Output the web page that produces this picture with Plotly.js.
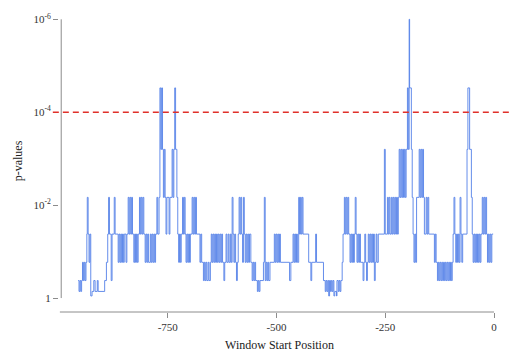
<!DOCTYPE html>
<html>
<head>
<meta charset="utf-8">
<script src="https://cdn.plot.ly/plotly-3.0.1.min.js"></script>
<style>html,body{margin:0;padding:0;background:#fff;}#chart{width:509px;height:360px;}</style>
</head>
<body>
<div id="chart"></div>
<script>
// Window start positions (step points)
var winStart = [-956,-954,-952,-950,-948,-946,-944,-942,-940,-938,
-936,-935,-933,-931,-929,
-927,-924,-920,-917,-912,-910,
-895,-891,-888,-886,-884,-880,-878,-873,-871,
-864,-862,-860,-858,-856,-854,-852,-850,-846,-844,
-841,-839,-837,-835,-833,-831,
-828,-826,-824,-822,-820,-818,
-815,-813,-811,-809,-807,-805,
-802,-800,-798,-796,-794,-790,
-788,-786,-784,-782,-780,-778,
-775,-773,-770,
-768,-766,-764,-762,-760,-758,-756,
-754,-752,-747,-745,
-740,-738,-736,-734,-732,-729,
-727,-725,-723,-721,-719,
-716,-714,-712,-710,
-708,-706,-704,-702,-700,-698,
-694,-692,-690,-688,-686,-684,
-676,-674,-672,-668,-666,-664,-662,-660,-657,-655,-652,
-650,-648,-646,-644,-642,-640,-638,-636,-634,-632,-630,-628,
-626,-624,-621,-619,-616,-614,-611,-609,-606,-604,-602,-600,-598,-596,-594,-592,-590,-588,
-586,-584,-582,-580,-578,-576,-574,
-572,-570,-568,-566,-564,-562,
-559,-556,-554,-552,-550,-548,-544,-542,-540,-538,
-530,-528,-526,-524,-522,-520,-518,-515,
-505,-503,-501,-499,-497,-495,-493,-491,
-470,-467,-462,-460,-458,-456,-454,-452,
-449,-447,-445,-443,-441,-439,
-426,-421,-419,-410,-408,-392,
-388,-386,-384,-382,-380,-378,-376,-374,-372,-370,-368,-366,-362,-361,-358,-356,-354,-352,
-349,-347,-344,-342,-340,-338,-336,-334,
-331,-329,-327,-325,-323,-321,
-319,-317,-315,-313,-311,-309,-307,
-301,-299,-297,-295,-293,-291,-289,-287,-285,-283,-281,-279,-277,-275,-273,-271,-269,-266,
-252,-250,-245,-243,-241,-239,-236,-234,-232,-230,-228,-226,-224,-222,-220,-218,-216,-214,-212,-210,-208,-206,-204,-202,
-199,-197,-195,-194,-190,-188,-186,-184,-182,-180,
-178,-172,-170,-168,-166,-164,-162,-160,
-156,-154,-152,-150,
-137,-135,-133,-130,-128,-126,-124,-122,-120,-118,-116,-114,-112,-110,-108,-106,-104,-102,-100,-98,-96,
-94,-92,-90,-88,-86,-84,-82,-80,-78,-76,-74,-72,
-62,-60,-56,-52,-50,
-48,-46,-44,-42,-40,-38,-36,-34,-32,-30,
-27,-25,-23,-21,-19,-17,
-15,-13,-11,-9,-7,-5,-2];

// p-values at each window start
var pval = [0.42,0.72,0.42,0.72,0.42,0.17,0.42,0.17,0.42,0.17,
0.042,0.0068,0.042,0.17,0.042,
0.9,0.72,0.42,0.72,0.42,0.72,
0.42,0.17,0.042,0.0068,0.042,0.42,0.042,0.0068,0.042,
0.17,0.042,0.17,0.042,0.17,0.042,0.17,0.042,0.17,0.042,
0.0068,0.042,0.0068,0.042,0.0068,0.042,
0.17,0.042,0.17,0.042,0.17,0.042,
0.0068,0.042,0.0068,0.042,0.0068,0.042,
0.17,0.042,0.17,0.042,0.17,0.042,
0.17,0.042,0.17,0.042,0.17,0.042,
0.0068,0.042,0.0068,
0.00003,0.00063,0.00003,0.00063,0.0068,0.00063,0.0068,
0.042,0.0068,0.042,0.0068,
0.00063,0.0068,0.00063,0.00003,0.00063,0.0068,
0.042,0.17,0.042,0.17,0.042,
0.0068,0.042,0.0068,0.042,
0.17,0.042,0.17,0.042,0.17,0.042,
0.0068,0.042,0.0068,0.042,0.0068,0.042,
0.17,0.042,0.17,0.42,0.17,0.42,0.17,0.42,0.17,0.42,0.17,
0.042,0.17,0.042,0.17,0.042,0.17,0.042,0.17,0.042,0.17,0.042,0.17,
0.042,0.17,0.42,0.17,0.042,0.17,0.042,0.17,0.042,0.17,0.0068,0.042,0.17,0.042,0.17,0.42,0.17,0.042,
0.0068,0.042,0.0068,0.042,0.17,0.0068,0.042,
0.17,0.042,0.17,0.042,0.17,0.042,
0.17,0.42,0.17,0.42,0.17,0.42,0.72,0.42,0.72,0.42,
0.17,0.0068,0.42,0.17,0.42,0.17,0.42,0.17,
0.042,0.17,0.042,0.17,0.042,0.17,0.042,0.17,
0.42,0.17,0.042,0.17,0.042,0.17,0.042,0.17,
0.0068,0.042,0.0068,0.042,0.0068,0.042,
0.17,0.42,0.17,0.042,0.17,0.42,
0.72,0.42,0.72,0.42,0.9,0.42,0.72,0.42,0.72,0.42,0.9,0.72,0.9,0.42,0.72,0.42,0.72,0.42,
0.17,0.042,0.0068,0.042,0.0068,0.042,0.0068,0.042,
0.17,0.042,0.17,0.042,0.17,0.042,
0.0068,0.042,0.17,0.042,0.17,0.042,0.17,
0.42,0.17,0.042,0.17,0.42,0.17,0.042,0.17,0.042,0.17,0.042,0.17,0.042,0.42,0.17,0.042,0.17,0.042,
0.00063,0.042,0.0068,0.042,0.0068,0.042,0.0068,0.042,0.0068,0.042,0.0068,0.042,0.0068,0.042,0.0068,0.00063,0.0068,0.00063,0.0068,0.00063,0.0068,0.00063,0.0068,0.00063,
0.00003,0.00063,0.000001,0.00003,0.00063,0.0068,0.042,0.17,0.042,0.17,
0.0068,0.00063,0.0068,0.00063,0.0068,0.00063,0.0068,0.042,
0.0068,0.042,0.0068,0.042,
0.17,0.042,0.17,0.42,0.17,0.42,0.17,0.42,0.17,0.42,0.17,0.42,0.17,0.42,0.17,0.42,0.17,0.42,0.17,0.42,0.17,
0.042,0.0068,0.042,0.17,0.042,0.17,0.042,0.17,0.0068,0.042,0.17,0.042,
0.00063,0.00003,0.00063,0.0068,0.042,
0.17,0.042,0.17,0.042,0.17,0.042,0.17,0.042,0.17,0.042,
0.0068,0.042,0.0068,0.042,0.0068,0.042,
0.17,0.042,0.17,0.042,0.17,0.042,0.042];

var threshold = [0.0001];
var xTicks = [-750, -500, -250, 0];
var yTicks = [1, 0.01, 0.0001, 0.000001];
var yTickText = ['1', '10<sup>-2</sup>', '10<sup>-4</sup>', '10<sup>-6</sup>'];

var serif = 'Liberation Serif, Times New Roman, serif';
var axisGray = '#8c8c8c';

// axis ranges (layout geometry)
var xRange = [-1000, 13.8];
var yRangeLog = [0.3, -6.2];  // reversed log axis: bottom -> top

function xPaper(v) { return (v - xRange[0]) / (xRange[1] - xRange[0]); }
function yPaper(p) { return (yRangeLog[0] - Math.log10(p)) / (yRangeLog[0] - yRangeLog[1]); }

var trace = {
  x: winStart,
  y: pval,
  type: 'scatter',
  mode: 'lines',
  line: {shape: 'hv', color: 'rgb(84,128,232)', width: 0.9},
  hoverinfo: 'skip'
};

var layout = {
  width: 509,
  height: 360,
  margin: {l: 59, r: 9, t: 10, b: 48},
  paper_bgcolor: '#ffffff',
  plot_bgcolor: '#ffffff',
  showlegend: false,
  font: {family: serif, size: 11, color: '#333333'},
  xaxis: {
    range: xRange,
    showgrid: false,
    zeroline: false,
    showline: false,
    tickvals: xTicks,
    ticktext: xTicks.map(String),
    ticks: 'outside',
    ticklen: 5,
    tickwidth: 1,
    tickcolor: axisGray,
    tickfont: {family: serif, size: 11, color: '#333333'},
    title: {text: 'Window Start Position', font: {family: serif, size: 12, color: '#222222'}, standoff: 8}
  },
  yaxis: {
    type: 'log',
    range: yRangeLog,
    showgrid: false,
    zeroline: false,
    showline: false,
    tickvals: yTicks,
    ticktext: yTickText,
    ticks: 'outside',
    ticklen: 5,
    tickwidth: 1,
    tickcolor: axisGray,
    tickfont: {family: serif, size: 11, color: '#333333'},
    title: {text: 'p-values', font: {family: serif, size: 12, color: '#222222'}, standoff: 8}
  },
  shapes: [
    {type: 'line', xref: 'paper', yref: 'paper', x0: 0.002, x1: xPaper(0), y0: 0, y1: 0,
     line: {color: axisGray, width: 1}},
    {type: 'line', xref: 'paper', yref: 'paper', x0: 0.005, x1: 0.005,
     y0: yPaper(yTicks[0]), y1: yPaper(yTicks[3]),
     line: {color: axisGray, width: 1}},
    {type: 'line', xref: 'paper', yref: 'paper', x0: -0.014, x1: 1.03,
     y0: yPaper(threshold[0]), y1: yPaper(threshold[0]),
     line: {color: '#e0302a', width: 1.5, dash: '6px,4px'}}
  ]
};

Plotly.newPlot('chart', [trace], layout, {displayModeBar: false, staticPlot: true});
</script>
</body>
</html>
